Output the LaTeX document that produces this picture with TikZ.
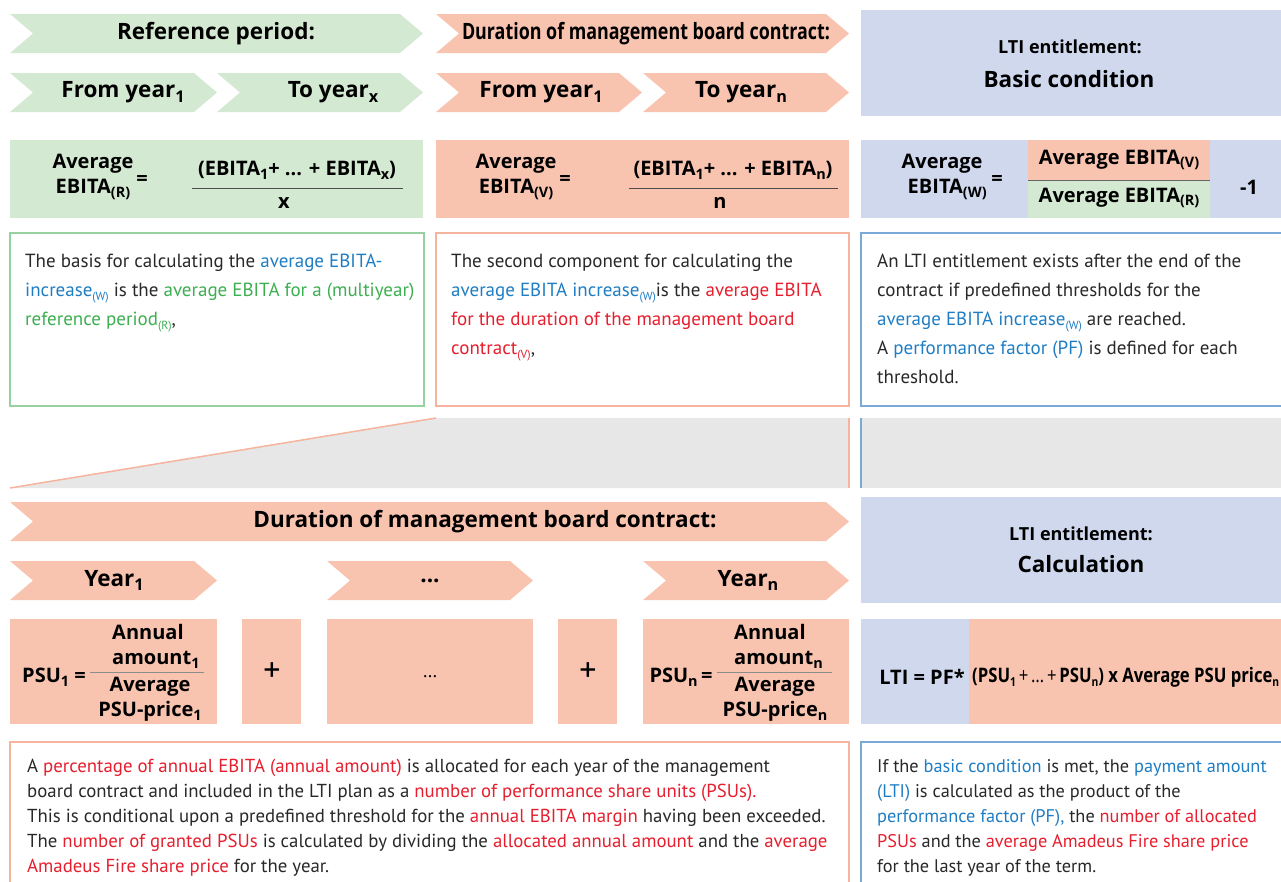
\documentclass[tikz,border=0pt]{standalone}
\usepackage{fontspec}
\setmainfont{PT Sans}
\newfontfamily\hdfont{Open Sans}
\usetikzlibrary{calc}

\definecolor{grnfill}{RGB}{212,233,210}
\definecolor{salfill}{RGB}{248,196,176}
\definecolor{blufill}{RGB}{208,216,238}
\definecolor{grayfill}{RGB}{231,231,231}
\definecolor{grnline}{RGB}{150,210,160}
\definecolor{salline}{RGB}{246,180,158}
\definecolor{bluline}{RGB}{120,170,215}
\definecolor{txtblue}{RGB}{30,125,195}
\definecolor{txtgreen}{RGB}{60,175,80}
\definecolor{txtred}{RGB}{230,30,45}
\definecolor{txtgray}{RGB}{40,40,40}

\newcommand{\tblue}[1]{\textcolor{txtblue}{#1}}
\newcommand{\tgreen}[1]{\textcolor{txtgreen}{#1}}
\newcommand{\tred}[1]{\textcolor{txtred}{#1}}
\newcommand{\sub}[1]{\raisebox{-.35ex}{\scalebox{.72}{#1}}}
\newcommand{\tsub}[1]{\raisebox{-.4ex}{\scalebox{.62}{#1}}}

\tikzset{
  hd/.style={font=\hdfont\bfseries\fontsize{22.5}{26}\selectfont,inner sep=0pt},
  ltihd/.style={font=\hdfont\bfseries\fontsize{18}{22}\selectfont,inner sep=0pt},
  fm/.style={font=\hdfont\bfseries\fontsize{20}{25}\selectfont,inner sep=0pt,align=center},
  body/.style={font=\fontsize{19}{29}\selectfont,text=txtgray,anchor=north west,align=left,inner sep=0pt},
  frame/.style={line width=1.5pt}
}

\begin{document}
\begin{tikzpicture}[x=1pt,y=-1pt]
  \useasboundingbox (0,0) rectangle (1281,881);

  % chevrons
  \foreach \nm/\xa/\xb/\ya/\col/\tx/\txt in {%
    refp/10/423/14/grnfill/216/{Reference period:},
    refa/10/217/73/grnfill/123/{From year\sub{1}},
    refb/217/423/73/grnfill/333/{To year\sub{x}},
    durp/436/849/14/salfill/646/{\resizebox{368pt}{\height}{Duration of management board contract:}},
    dura/436/642/73/salfill/541/{From year\sub{1}},
    durb/643/849/73/salfill/741/{To year\sub{n}},
    durq/10/849/502/salfill/485/{Duration of management board contract:},
    yra/10/217/561/salfill/114/{Year\sub{1}},
    yrb/327/533/561/salfill/430/{...},
    yrc/643/849/561/salfill/748/{Year\sub{n}}}{%
      \fill[\col] (\xa,\ya) -- (\xb-23,\ya) -- (\xb,\ya+19.5) -- (\xb-23,\ya+39)
        -- (\xa,\ya+39) -- (\xa+23,\ya+19.5) -- cycle;
      \node[hd] (\nm) at (\tx,\ya+19.5) {\txt};
    }

  % LTI headers
  \fill[blufill] (861,10) rectangle (1281,116);
  \node[ltihd] (ltia) at (1070,47) {LTI entitlement:};
  \node[hd] (ltib) at (1069,79) {Basic condition};
  \fill[blufill] (861,497) rectangle (1281,603);
  \node[ltihd] (ltic) at (1081,534) {LTI entitlement:};
  \node[hd] (ltid) at (1081,564) {Calculation};

  % formulas, first row
  \fill[grnfill] (10,140) rectangle (423,218);
  \fill[salfill] (436,140) rectangle (849,218);
  \fill[blufill] (861,140) rectangle (1281,218);
  \fill[salfill] (1028,140) rectangle (1210,180);
  \fill[grnfill] (1028,181) rectangle (1210,218);
  \draw[black!60,line width=1pt] (1028,180.5) -- (1210,180.5);

  \node[fm] (avgr) at (93,177) {Average\\EBITA\sub{(R)}};
  \node[fm] (eqr) at (142,180) {=};
  \node[fm] (numr) at (297,170) {(EBITA\sub{1}+ ... +~EBITA\sub{x})};
  \node[fm] (denr) at (284,203) {x};
  \draw[black!70] (192,188) -- (403,188);

  \node[fm] (avgv) at (516,177) {Average\\EBITA\sub{(V)}};
  \node[fm] (eqv) at (565,180) {=};
  \node[fm] (numv) at (733,170) {(EBITA\sub{1}+ ... +~EBITA\sub{n})};
  \node[fm] (denv) at (720,203) {n};
  \draw[black!70] (629,188) -- (838,188);

  \node[fm] (avgw) at (942,177) {Average\\~~EBITA\sub{(W)}};
  \node[fm] (eqw) at (997,180) {=};
  \node[fm] (fracv) at (1119,160) {Average EBITA\sub{(V)}};
  \node[fm] (fracr) at (1119,198) {Average EBITA\sub{(R)}};
  \node[fm] (minus) at (1249,187) {-1};

  % text boxes
  \draw[frame,grnline] (10,233) rectangle (424,406);
  \draw[frame,salline] (436,233) rectangle (849,406);
  \draw[frame,bluline] (861,233) rectangle (1290,406);

  \node[body] (txtr) at (25,254) {The basis for calculating the \tblue{average EBITA-}\\
    \tblue{increase\tsub{(W)}} is the \tgreen{average EBITA for a (multiyear)}\\
    \tgreen{reference period\tsub{(R)}},};
  \node[body] (txtv) at (451,254) {The second component for calculating the\\
    \tblue{average EBITA increase\tsub{(W)}}is the \tred{average EBITA}\\
    \tred{for the duration of the management board}\\
    \tred{contract\tsub{(V)}},};
  \node[body] (txtw) at (877,254) {An LTI entitlement exists after the end of the\\
    contract if predefined thresholds for the\\
    \tblue{average EBITA increase\tsub{(W)}} are reached.\\
    A \tblue{performance factor (PF)} is defined for each\\
    threshold.};

  % gray band
  \fill[grayfill] (436,418) -- (849,418) -- (849,488) -- (10,488) -- cycle;
  \fill[grayfill] (861,418) rectangle (1281,488);
  \draw[frame,salline] (436,418) -- (10,488);
  \draw[frame,salline] (849,418) -- (849,488);
  \draw[frame,bluline] (861,418) -- (861,488);

  % formulas, second row
  \foreach \xa/\xb in {10/217,242/301,327/533,558/617,643/849}
    \fill[salfill] (\xa,619) rectangle (\xb,724);
  \fill[blufill] (861,619) rectangle (969,724);
  \fill[salfill] (969,619) rectangle (1281,724);

  \node[fm] (psua) at (54,677) {PSU\sub{1} =};
  \node[fm,align=left,anchor=west] (psuan) at (112,646) {Annual\\amount\sub{1}};
  \node[fm] (psuad) at (150,699) {Average\\PSU-price\sub{1}};
  \draw[black!45] (90,672) -- (204,672);
  \node[font=\fontsize{34}{34}\selectfont,inner sep=0pt] (plsa) at (272,672) {+};
  \node[font=\fontsize{19}{20}\selectfont,inner sep=0pt] (dots) at (430,677) {…};
  \node[font=\fontsize{34}{34}\selectfont,inner sep=0pt] (plsb) at (588,672) {+};
  \node[fm] (psun) at (681,677) {PSU\sub{n}\,=};
  \node[fm,align=left,anchor=west] (psunn) at (734,646) {Annual\\amount\sub{n}};
  \node[fm] (psund) at (775,699) {Average\\PSU-price\sub{n}};
  \draw[black!45] (717,672) -- (832,672);

  \node[fm] (ltif) at (922,677) {LTI = PF*};
  \node[fm,anchor=west] (ltig) at (972,677) {\resizebox{307pt}{\height}{(PSU\tsub{1}{\mdseries\,+\,…\,+\,}PSU\tsub{n}) x Average PSU price\tsub{n}}};

  % bottom text boxes
  \draw[frame,salline] (10,742) rectangle (849,900);
  \draw[frame,bluline] (861,742) rectangle (1290,900);

  \node[body,font=\fontsize{18.8}{25}\selectfont] (txtp) at (27,759) {A \tred{percentage of annual EBITA (annual amount)} is allocated for each year of the management\\
    board contract and included in the LTI plan as a \tred{number of performance share units (PSUs).}\\
    This is conditional upon a predefined threshold for the \tred{annual EBITA margin} having been exceeded.\\
    The \tred{number of granted PSUs} is calculated by dividing the \tred{allocated annual amount} and the \tred{average}\\
    \tred{Amadeus Fire share price} for the year.};
  \node[body,font=\fontsize{18.3}{25}\selectfont] (txtl) at (877,759) {If the \tblue{basic condition} is met, the \tblue{payment amount}\\
    \tblue{(LTI)} is calculated as the product of the\\
    \tblue{performance factor (PF),} the \tred{number of allocated}\\
    \tred{PSUs} and the \tred{average Amadeus Fire share price}\\
    for the last year of the term.};
\end{tikzpicture}
\end{document}
